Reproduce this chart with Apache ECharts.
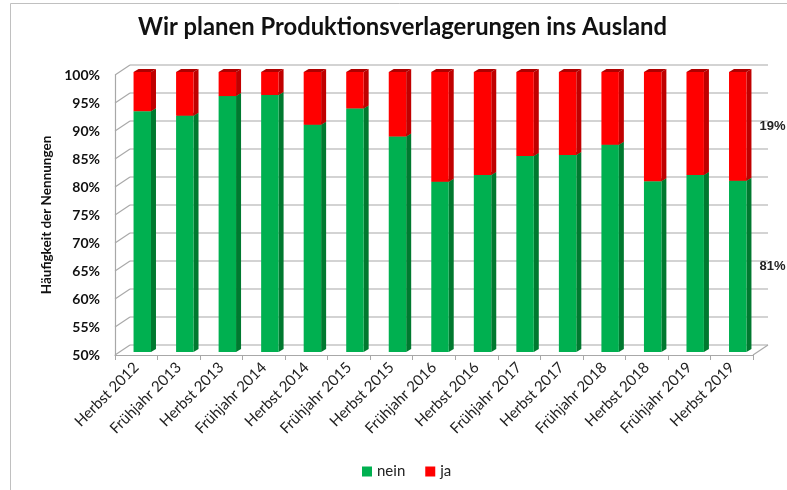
<!DOCTYPE html>
<html>
<head>
<meta charset="utf-8">
<script src="https://cdn.jsdelivr.net/npm/echarts@6/dist/echarts.min.js"></script>
<style>html,body{margin:0;padding:0;background:#fff}#c{width:787px;height:490px}</style>
</head>
<body>
<div id="c"></div>
<script>
const categories = ['Herbst 2012','Frühjahr 2013','Herbst 2013','Frühjahr 2014','Herbst 2014','Frühjahr 2015','Herbst 2015','Frühjahr 2016','Herbst 2016','Frühjahr 2017','Herbst 2017','Frühjahr 2018','Herbst 2018','Frühjahr 2019','Herbst 2019'];
const neinValues = [93.0, 92.2, 95.7, 95.9, 90.6, 93.5, 88.5, 80.4, 81.6, 85.0, 85.2, 87.0, 80.5, 81.6, 80.6];
const jaValues   = [7.0, 7.8, 4.3, 4.1, 9.4, 6.5, 11.5, 19.6, 18.4, 15.0, 14.8, 13.0, 19.5, 18.4, 19.4];
const yTicks = [50, 55, 60, 65, 70, 75, 80, 85, 90, 95, 100];
const yMin = 50, yMax = 100, yStep = 5;

const GREEN = '#00b050', GREEN_SIDE = '#00792f', GREEN_TOP = '#008a3a';
const RED = '#ff0000', RED_SIDE = '#c00000', RED_TOP = '#b00000';
const GRIDC = '#a8a8a8';
const DX = 15, DY = -10;     // depth of back wall
const BDX = 6, BDY = -3;     // bar offset from front plane
const SDX = 5, SDY = -3;     // bar side depth

function barItem(colors, values) {
  return function (params, api) {
    const i = api.value(0), lo = api.value(1), hi = api.value(2);
    const p0 = api.coord([i, lo]);
    const p1 = api.coord([i, hi]);
    const band = api.size([1, 0])[0];
    const w = band * 0.41;
    const xc = p0[0] + BDX;
    const xl = xc - w / 2, xr = xc + w / 2;
    const yb = p0[1] + BDY, yt = p1[1] + BDY;
    const children = [
      {type: 'polygon', shape: {points: [[xr, yt], [xr + SDX, yt + SDY], [xr + SDX, yb + SDY], [xr, yb]]}, style: {fill: colors[1]}},
      {type: 'polygon', shape: {points: [[xl, yt], [xl + SDX, yt + SDY], [xr + SDX, yt + SDY], [xr, yt]]}, style: {fill: colors[2]}},
      {type: 'rect', shape: {x: xl, y: yt, width: w, height: yb - yt}, style: {fill: colors[0]}}
    ];
    if (params.dataIndex === categories.length - 1) {
      children.push({type: 'text', x: xr + SDX + 8, y: (yt + yb) / 2,
        style: {text: Math.round(values[params.dataIndex]) + '%', fill: '#222', font: 'bold 13px "Liberation Sans", Arial, sans-serif', textVerticalAlign: 'middle', textAlign: 'left'}});
    }
    return {type: 'group', children};
  };
}

function wallItem(params, api) {
  const v = api.value(0);
  const cs = params.coordSys;
  const y = api.coord([0, v])[1];
  const xL = cs.x, xR = cs.x + cs.width;
  const ls = {stroke: GRIDC, lineWidth: 1.2, fill: null};
  const children = [
    {type: 'line', shape: {x1: xL, y1: y, x2: xL + DX, y2: y + DY}, style: ls},
    {type: 'line', shape: {x1: xL + DX, y1: y + DY, x2: xR + DX, y2: y + DY}, style: ls}
  ];
  if (v === yMin) {
    children.push({type: 'line', shape: {x1: xR, y1: y, x2: xR + DX, y2: y + DY}, style: ls});
  }
  return {type: 'group', children};
}

const neinData = categories.map((c, i) => [i, yMin, neinValues[i]]);
const jaData = categories.map((c, i) => [i, neinValues[i], neinValues[i] + jaValues[i]]);

const chart = echarts.init(document.getElementById('c'), null, {renderer: 'canvas'});
chart.setOption({
  animation: false,
  backgroundColor: '#fff',
  title: {
    text: 'Wir planen Produktionsverlagerungen ins Ausland',
    left: 133, top: 10,
    textStyle: {fontFamily: 'Lato, "Open Sans", sans-serif', fontWeight: 'bold', fontSize: 23.8, color: '#111'}
  },
  legend: {
    data: ['nein', 'ja'],
    left: 357, top: 459,
    icon: 'rect', itemWidth: 10, itemHeight: 10, itemGap: 20,
    textStyle: {fontFamily: 'Lato, sans-serif', fontSize: 15, color: '#222'}
  },
  grid: {left: 115, right: 34, top: 75, bottom: 135, containLabel: false},
  xAxis: {
    type: 'category', data: categories,
    axisLine: {show: true, lineStyle: {color: GRIDC, width: 1.2}},
    axisTick: {show: true, length: 5, lineStyle: {color: GRIDC}},
    axisLabel: {rotate: 45, margin: 10, interval: 0, fontFamily: 'Lato, sans-serif', fontSize: 15, color: '#222'},
    splitLine: {show: false}
  },
  yAxis: {
    type: 'value', min: yMin, max: yMax, interval: yStep,
    name: 'Häufigkeit der Nennungen', nameLocation: 'middle', nameGap: 57,
    nameTextStyle: {fontFamily: 'Lato, sans-serif', fontWeight: 'bold', fontSize: 13.5, color: '#111'},
    axisLine: {show: true, lineStyle: {color: GRIDC, width: 1.2}},
    axisTick: {show: false},
    axisLabel: {formatter: '{value}%', margin: 15, fontFamily: 'Lato, sans-serif', fontWeight: 'bold', fontSize: 14, color: '#111'},
    splitLine: {show: false}
  },
  graphic: [{type: 'rect', shape: {x: 10.5, y: 3.5, width: 900, height: 600}, style: {fill: null, stroke: '#c0c0c0', lineWidth: 1}, silent: true, z: 100}],
  series: [
    {type: 'custom', name: 'wall', renderItem: wallItem, data: yTicks.map(v => [v]), encode: {y: 0}, z: 1, silent: true},
    {type: 'custom', name: 'nein', renderItem: barItem([GREEN, GREEN_SIDE, GREEN_TOP], neinValues), data: neinData, encode: {x: 0, y: [1, 2]}, itemStyle: {color: GREEN}, z: 3},
    {type: 'custom', name: 'ja', renderItem: barItem([RED, RED_SIDE, RED_TOP], jaValues), data: jaData, encode: {x: 0, y: [1, 2]}, itemStyle: {color: RED}, z: 3}
  ]
});
</script>
</body>
</html>
